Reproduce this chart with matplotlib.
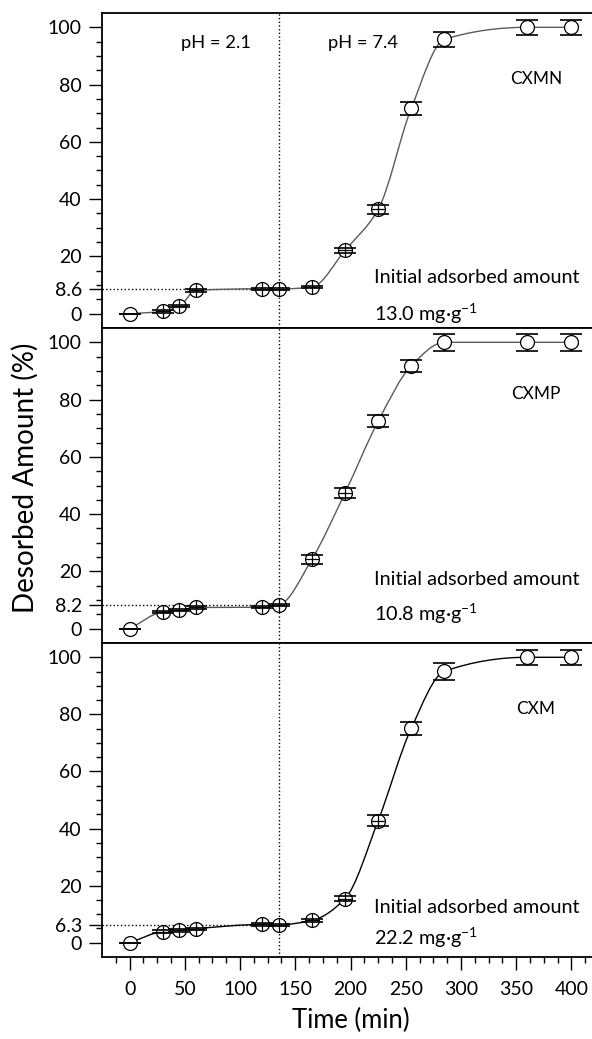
#!/usr/bin/env python3
"""Desorbed amount vs time for CXMN / CXMP / CXM (pH switch 2.1 -> 7.4)."""

import numpy as np
import matplotlib
matplotlib.use("Agg")
import matplotlib.pyplot as plt
from matplotlib.path import Path
from matplotlib.patches import PathPatch
from matplotlib.ticker import FixedLocator

plt.rcParams["font.family"] = ["Lato", "DejaVu Sans"]
plt.rcParams["mathtext.fontset"] = "custom"
plt.rcParams["mathtext.rm"] = "Lato"

# ---------------------------------------------------------------------------
# Data
# ---------------------------------------------------------------------------
time_min = [0, 30, 45, 60, 120, 135, 165, 195, 225, 255, 285, 360, 400]

cxmn     = [0, 0.8, 2.6, 8.1, 8.7, 8.6, 9.3, 22.1, 36.4, 71.7, 95.8, 100, 100]
cxmn_err = [0, 0.4, 0.4, 0.5, 0.4, 0.4, 0.5, 1.0, 1.6, 2.2, 2.5, 2.7, 2.7]

cxmp     = [0, 5.9, 6.5, 7.4, 7.5, 8.2, 24.2, 47.4, 72.4, 91.8, 100, 100, 100]
cxmp_err = [0, 0.4, 0.4, 0.4, 0.4, 0.4, 1.5, 1.6, 2.1, 2.2, 2.9, 2.9, 2.9]

cxm      = [0, 3.9, 4.3, 4.9, 6.4, 6.3, 7.8, 15.4, 42.7, 75.1, 95.1, 100, 100]
cxm_err  = [0, 0.4, 0.4, 0.4, 0.4, 0.4, 0.5, 0.9, 1.9, 2.3, 3.0, 2.7, 2.7]

samples      = ["CXMN", "CXMP", "CXM"]
plateau      = [8.6, 8.2, 6.3]
initial_ads  = ["13.0", "10.8", "22.2"]
ph_switch    = 135

DPI = 100


# ---------------------------------------------------------------------------
# Helpers
# ---------------------------------------------------------------------------

def smooth_path(x, y):
    """Monotone cubic (Fritsch-Carlson) curve through the points, as Bezier path."""
    x = np.asarray(x, float)
    y = np.asarray(y, float)
    h = np.diff(x)
    d = np.diff(y) / h
    m = np.zeros_like(y)
    m[0], m[-1] = d[0], d[-1]
    for i in range(1, len(y) - 1):
        if d[i - 1] * d[i] <= 0:
            m[i] = 0.0
        else:
            w1 = 2 * h[i] + h[i - 1]
            w2 = h[i] + 2 * h[i - 1]
            m[i] = (w1 + w2) / (w1 / d[i - 1] + w2 / d[i])
    verts = [(x[0], y[0])]
    codes = [Path.MOVETO]
    for i in range(len(x) - 1):
        verts += [(x[i] + h[i] / 3, y[i] + m[i] * h[i] / 3),
                  (x[i + 1] - h[i] / 3, y[i + 1] - m[i + 1] * h[i] / 3),
                  (x[i + 1], y[i + 1])]
        codes += [Path.CURVE4] * 3
    return Path(verts, codes)


def fit_size(text, target_px):
    """Font size (pt) so that `text` spans target_px along its reading direction."""
    fig_t = plt.figure(figsize=(4, 4), dpi=DPI)
    t = fig_t.text(0.5, 0.5, text, fontsize=20)
    r = fig_t.canvas.get_renderer()
    w = t.get_window_extent(r).width
    plt.close(fig_t)
    return 20 * target_px / w


def draw_panel(ax, y, yerr, name, level, curve_color, fs):
    ax.add_patch(PathPatch(smooth_path(time_min, y), fill=False,
                           edgecolor=curve_color, lw=1.0, zorder=2))

    eb = ax.errorbar(time_min, y, yerr=yerr, fmt="none", ecolor="black",
                     elinewidth=1.0, capsize=8, capthick=1.2, zorder=3)
    for cap in eb[1]:
        cap.set_zorder(5)

    ax.plot(time_min, y, "o", ms=10, mfc="white", mec="black", mew=0.9,
            ls="none", zorder=4)

    # small error bars sit inside the marker -> crossed circle look
    err = np.asarray(yerr)
    small = (err > 0) & (err < 2.0)
    ax.plot(np.asarray(time_min)[small], np.asarray(y)[small], "+", ms=10,
            mec="black", mew=0.9, ls="none", zorder=5)

    ax.axvline(ph_switch, color="black", ls=":", lw=1.0, zorder=1)
    ax.plot([-25, ph_switch], [level, level], color="black", ls=":", lw=1.0,
            zorder=1)

    ax.set_xlim(-25, 425)
    ax.set_ylim(-5, 105)
    major = [0, level, 20, 40, 60, 80, 100]
    ax.yaxis.set_major_locator(FixedLocator(major))
    ax.set_yticklabels(["0", f"{level:g}", "20", "40", "60", "80", "100"])
    ax.yaxis.set_minor_locator(FixedLocator(
        [v for v in range(5, 100, 5) if v % 20 != 0]))

    ax.tick_params(axis="both", which="major", direction="out", length=9.5,
                   width=1.0, labelsize=fs["tick"], pad=5)
    ax.tick_params(axis="both", which="minor", direction="out", length=4.5,
                   width=1.0)
    for s in ax.spines.values():
        s.set_linewidth(1.3)
    ax.spines["right"].set_visible(False)

    ax.text(368, 82, name, ha="center", va="center", fontsize=fs["name"])
    return ax


# ---------------------------------------------------------------------------
# Figure
# ---------------------------------------------------------------------------
fs = {
    "tick":  fit_size("100", 34),
    "name":  fit_size("CXMN", 52),
    "ph":    fit_size("pH = 2.1", 70),
    "ann":   fit_size("Initial adsorbed amount", 206),
    "xlab":  fit_size("Time (min)", 118),
    "ylab":  fit_size("Desorbed Amount (%)", 270),
}

fig = plt.figure(figsize=(5.92, 10.39), dpi=DPI)

W = 1039.0
left = 102 / 592
width = 497 / 592
panels_px = [(13, 328), (328, 643), (643, 957)]
axes = []
for top, bot in panels_px:
    axes.append(fig.add_axes([left, (W - bot) / W, width, (bot - top) / W]))

series = [cxmn, cxmp, cxm]
errors = [cxmn_err, cxmp_err, cxm_err]
colors = ["#5a5a5a", "#5a5a5a", "black"]
for ax, y, e, n, lv, c in zip(axes, series, errors, samples, plateau, colors):
    draw_panel(ax, y, e, n, lv, c, fs)

# annotation text per panel
ann_y = [(12.7, 0.0), (17.2, 5.3), (12.4, 1.9)]
for ax, am, (y1, y2) in zip(axes, initial_ads, ann_y):
    ax.text(221, y1, "Initial adsorbed amount", ha="left", va="center",
            fontsize=fs["ann"])
    ax.text(221, y2, am + " mg·g$^{-1}$", ha="left", va="center",
            fontsize=fs["ann"])

axes[0].text(78, 94.5, "pH = 2.1", ha="center", va="center", fontsize=fs["ph"])
axes[0].text(211, 94.5, "pH = 7.4", ha="center", va="center", fontsize=fs["ph"])

for ax in axes[:2]:
    ax.tick_params(axis="x", which="both", bottom=False, labelbottom=False)

ax = axes[2]
ax.set_xticks([0, 50, 100, 150, 200, 250, 300, 350, 400])
ax.xaxis.set_minor_locator(FixedLocator(np.arange(-12.5, 425, 12.5)))
ax.tick_params(axis="x", which="major", pad=8)
ax.set_xlabel("Time (min)", fontsize=fs["xlab"], labelpad=7)

fig.text(25 / 592, 1 - 478 / W, "Desorbed Amount (%)", rotation=90,
         ha="center", va="center", fontsize=fs["ylab"])

plt.savefig("out.png", dpi=DPI)
plt.close()
